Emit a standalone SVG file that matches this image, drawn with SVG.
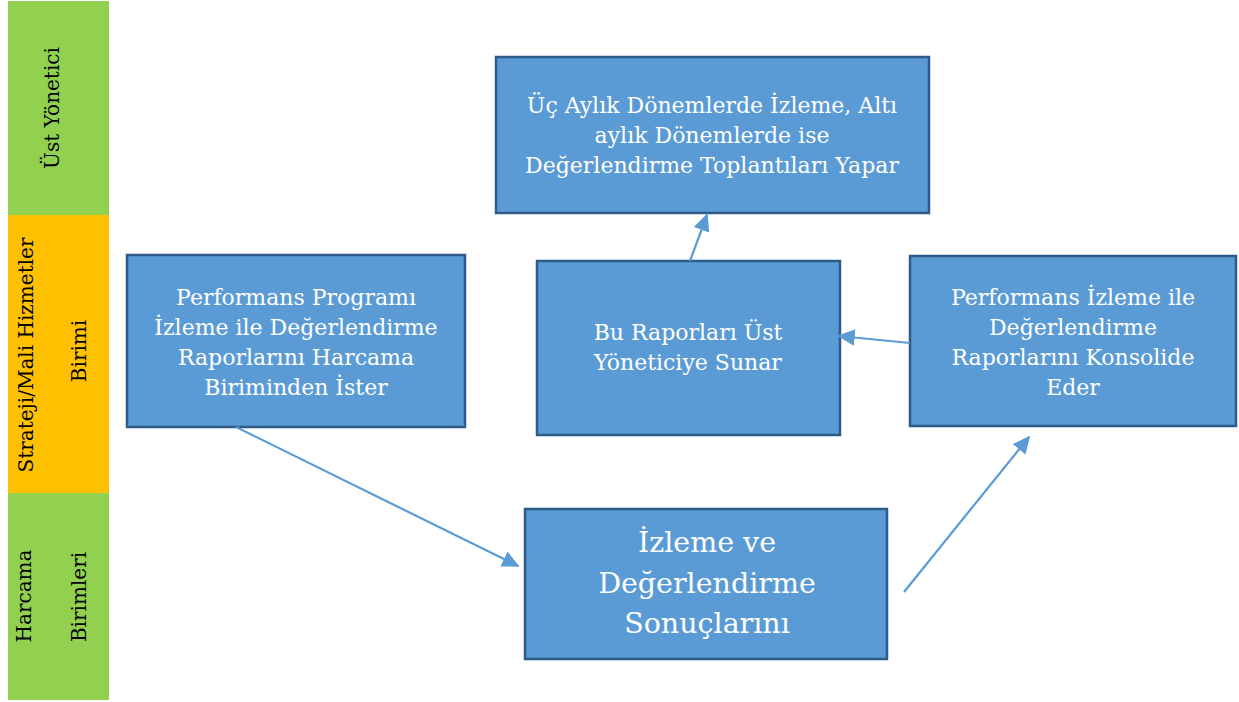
<svg xmlns="http://www.w3.org/2000/svg" width="1239" height="702" viewBox="0 0 1239 702">
<defs>
<style>
.lane{stroke:none}
.lt{font-family:"DejaVu Serif","Liberation Serif",serif;font-size:20px;fill:#000;text-anchor:middle}
.box{fill:#5B9BD5;stroke:#2E5B8A;stroke-width:2.5}
.bt{font-family:"DejaVu Serif","Liberation Serif",serif;font-size:22px;fill:#fff;text-anchor:middle}
.big{font-size:28.5px}
.con{stroke:#5B9BD5;stroke-width:2.2;fill:none;marker-end:url(#ah)}
</style>
<marker id="ah" viewBox="0 0 10 10" refX="9" refY="5" markerWidth="8" markerHeight="7.5" orient="auto" markerUnits="strokeWidth" preserveAspectRatio="none">
<path d="M0,0 L10,5 L0,10 z" fill="#5B9BD5"/>
</marker>
</defs>
<rect width="1239" height="702" fill="#fff"/>
<g id="lane-ust">
<rect class="lane" x="8" y="1" width="101" height="214" fill="#92D050"/>
<text class="lt" transform="translate(59,108) rotate(-90)">Üst Yönetici</text>
</g>
<g id="lane-strateji">
<rect class="lane" x="8" y="215" width="101" height="278" fill="#FFC000"/>
<text class="lt" transform="translate(33,355) rotate(-90)">Strateji/Mali Hizmetler</text>
<text class="lt" transform="translate(86,351) rotate(-90)">Birimi</text>
</g>
<g id="lane-harcama">
<rect class="lane" x="8" y="493" width="101" height="207" fill="#92D050"/>
<text class="lt" transform="translate(31,596) rotate(-90)">Harcama</text>
<text class="lt" transform="translate(86,597) rotate(-90)">Birimleri</text>
</g>
<g id="node-top">
<rect class="box" x="496" y="57" width="433" height="156"/>
<text class="bt" x="712" y="113">Üç Aylık Dönemlerde İzleme, Altı</text>
<text class="bt" x="712" y="143">aylık Dönemlerde ise</text>
<text class="bt" x="712" y="173">Değerlendirme Toplantıları Yapar</text>
</g>
<g id="node-left">
<rect class="box" x="127" y="255" width="338" height="172"/>
<text class="bt" x="296" y="305">Performans Programı</text>
<text class="bt" x="296" y="335">İzleme ile Değerlendirme</text>
<text class="bt" x="296" y="365">Raporlarını Harcama</text>
<text class="bt" x="296" y="395">Biriminden İster</text>
</g>
<g id="node-mid">
<rect class="box" x="537" y="261" width="303" height="174"/>
<text class="bt" x="688" y="340">Bu Raporları Üst</text>
<text class="bt" x="688" y="370">Yöneticiye Sunar</text>
</g>
<g id="node-right">
<rect class="box" x="910" y="256" width="326" height="170"/>
<text class="bt" x="1073" y="305">Performans İzleme ile</text>
<text class="bt" x="1073" y="335">Değerlendirme</text>
<text class="bt" x="1073" y="365">Raporlarını Konsolide</text>
<text class="bt" x="1073" y="395">Eder</text>
</g>
<g id="node-bottom">
<rect class="box" x="525" y="509" width="362" height="150"/>
<text class="bt big" x="707" y="552">İzleme ve</text>
<text class="bt big" x="707" y="593">Değerlendirme</text>
<text class="bt big" x="707" y="633">Sonuçlarını</text>
</g>
<g id="connectors">
<line class="con" x1="236" y1="427" x2="518" y2="566"/>
<line class="con" x1="690" y1="261" x2="707" y2="215"/>
<line class="con" x1="910" y1="343" x2="839" y2="336"/>
<line class="con" x1="904" y1="592" x2="1029" y2="437"/>
</g>
</svg>
